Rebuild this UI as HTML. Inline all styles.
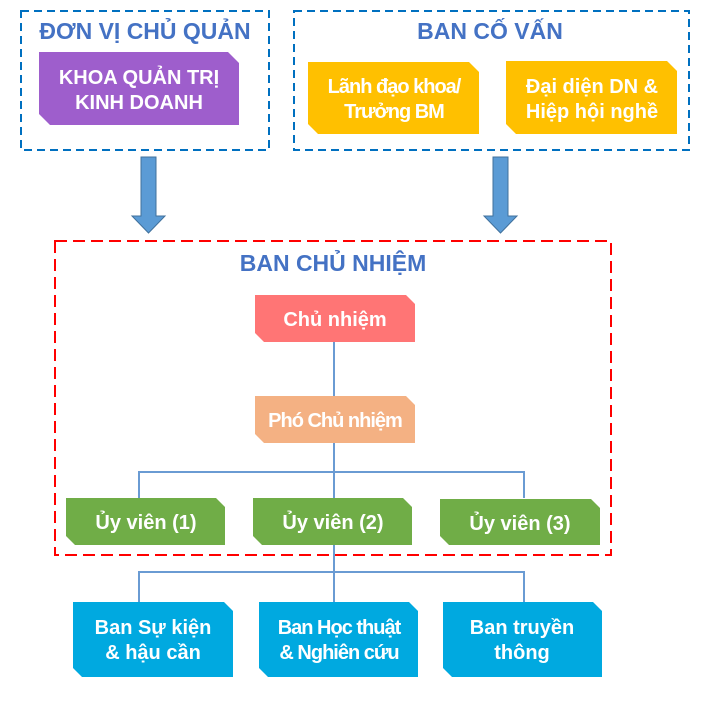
<!DOCTYPE html>
<html><head><meta charset="utf-8"><style>
html,body{margin:0;padding:0;background:#fff;width:701px;height:701px;overflow:hidden}
svg{display:block}
text{font-family:"Liberation Sans",Arial,sans-serif;font-weight:bold;text-anchor:middle}
.w{fill:#fff;font-size:20px}
.c{letter-spacing:-1px}
.t{fill:#4472c4;font-size:23px}
</style></head><body>
<svg width="701" height="701" viewBox="0 0 701 701" xmlns="http://www.w3.org/2000/svg">
<rect x="21" y="11" width="248" height="139" fill="none" stroke="#0070c0" stroke-width="2" stroke-dasharray="8,5"/>
<rect x="294" y="11" width="395" height="139" fill="none" stroke="#0070c0" stroke-width="2" stroke-dasharray="8,5"/>
<rect x="55" y="241" width="556" height="314" fill="none" stroke="#ff0000" stroke-width="2" stroke-dasharray="12,6"/>
<text class="t" x="145" y="39">ĐƠN VỊ CHỦ QUẢN</text>
<text class="t" x="490" y="39">BAN CỐ VẤN</text>
<text class="t" x="333" y="271">BAN CHỦ NHIỆM</text>
<polygon points="39,52 228,52 239,63 239,125 50,125 39,114" fill="#9e5ecc"/>
<text class="w" x="139" y="84">KHOA QUẢN TRỊ</text>
<text class="w" x="139" y="109">KINH DOANH</text>
<polygon points="308,62 469,62 479,72 479,134 318,134 308,124" fill="#ffc000"/>
<text class="w c" x="394" y="93">Lãnh đạo khoa/</text>
<text class="w c" x="394" y="118">Trưởng BM</text>
<polygon points="506,61 667,61 677,71 677,134 516,134 506,124" fill="#ffc000"/>
<text class="w" x="592" y="93">Đại diện DN &amp;</text>
<text class="w" x="592" y="118">Hiệp hội nghề</text>
<polygon points="141,157 156,157 156,216 165,216 148.5,233 132,216 141,216" fill="#5b9bd5" stroke="#41719c" stroke-width="1"/>
<polygon points="493,157 508,157 508,216 517,216 500.5,233 484,216 493,216" fill="#5b9bd5" stroke="#41719c" stroke-width="1"/>
<g stroke="#6a9bd3" stroke-width="2" fill="none">
<line x1="334" y1="342" x2="334" y2="396"/>
<line x1="334" y1="443" x2="334" y2="602"/>
<polyline points="139,498 139,472 524,472 524,498"/>
<polyline points="139,602 139,572 524,572 524,602"/>
</g>
<polygon points="255,295 406,295 415,304 415,342 264,342 255,333" fill="#ff7575"/>
<text class="w" x="335" y="326">Chủ nhiệm</text>
<polygon points="255,396 406,396 415,405 415,443 264,443 255,434" fill="#f4b183"/>
<text class="w c" x="335" y="427">Phó Chủ nhiệm</text>
<polygon points="66,498 216,498 225,507 225,545 75,545 66,536" fill="#70ad47"/>
<text class="w" x="146" y="529">Ủy viên (1)</text>
<polygon points="253,498 403,498 412,507 412,545 262,545 253,536" fill="#70ad47"/>
<text class="w" x="333" y="529">Ủy viên (2)</text>
<polygon points="440,499 591,499 600,508 600,545 449,545 440,536" fill="#70ad47"/>
<text class="w" x="520" y="530">Ủy viên (3)</text>
<polygon points="73,602 224,602 233,611 233,677 82,677 73,668" fill="#00a9e0"/>
<text class="w" x="153" y="634">Ban Sự kiện</text>
<text class="w" x="153" y="659">&amp; hậu cần</text>
<polygon points="259,602 409,602 418,611 418,677 268,677 259,668" fill="#00a9e0"/>
<text class="w c" x="339" y="634">Ban Học thuật</text>
<text class="w c" x="339" y="659">&amp; Nghiên cứu</text>
<polygon points="443,602 593,602 602,611 602,677 452,677 443,668" fill="#00a9e0"/>
<text class="w" x="522" y="634">Ban truyền</text>
<text class="w" x="522" y="659">thông</text>
</svg>
</body></html>
